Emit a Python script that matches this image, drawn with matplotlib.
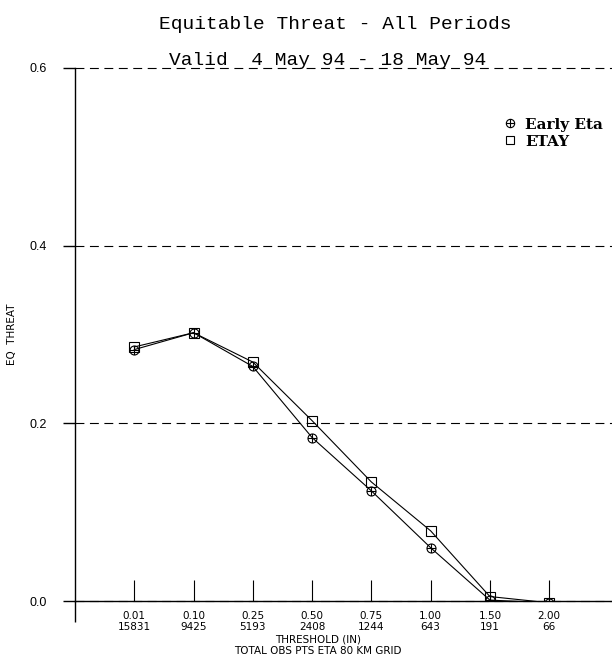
import matplotlib
matplotlib.use('Agg')
import matplotlib.pyplot as plt
from matplotlib.path import Path
from matplotlib.lines import Line2D

# precipitation thresholds (inches) and observation counts
thresholds = ['0.01', '0.10', '0.25', '0.50', '0.75', '1.00', '1.50', '2.00']
obs_pts = ['15831', '9425', '5193', '2408', '1244', '643', '191', '66']

# equitable threat scores
early_eta = [0.283, 0.302, 0.264, 0.184, 0.124, 0.060, 0.001, -0.002]
etay = [0.286, 0.302, 0.269, 0.203, 0.134, 0.079, 0.005, -0.002]

yticks = [0.0, 0.2, 0.4, 0.6]

# circle with a cross inside
cross = Path([[-1, 0], [1, 0], [0, -1], [0, 1]],
             [Path.MOVETO, Path.LINETO, Path.MOVETO, Path.LINETO])
oplus = Path.make_compound_path(Path.unit_circle(), cross)

fig = plt.figure(figsize=(6.12, 6.61), dpi=100)
ax = fig.add_axes([75 / 612, 60 / 661, 537 / 612, 533 / 661])

x = list(range(1, len(thresholds) + 1))
ax.plot(x, etay, color='k', lw=0.8, marker='s', ms=6.5, mfc='none', mec='k', mew=0.8)
ax.plot(x, early_eta, color='k', lw=0.8, marker=oplus, ms=6.5, mfc='none', mec='k', mew=0.8)

ax.set_xlim(0, 9.06)
ax.set_ylim(0, 0.6)

for s in ['top', 'right']:
    ax.spines[s].set_visible(False)
for s in ['left', 'bottom']:
    ax.spines[s].set_linewidth(1.0)

ax.set_yticks(yticks)
ax.set_yticklabels(['%.1f' % v for v in yticks], fontfamily='Liberation Sans', fontsize=9)
ax.tick_params(axis='y', direction='out', length=9, width=1.0, pad=11)

ax.set_xticks(x)
ax.set_xticklabels([t + '\n' + n for t, n in zip(thresholds, obs_pts)],
                   fontfamily='DejaVu Sans', fontsize=7.5, linespacing=1.2)
ax.tick_params(axis='x', which='major', direction='in', length=15, width=0.8, pad=7)
# axis cross below the origin
ax.set_xticks([0], minor=True)
ax.tick_params(axis='x', which='minor', direction='out', length=15, width=1.0)

ax.grid(axis='y', color='k', lw=0.8, linestyle=(0, (8, 5)), clip_on=False)
ax.grid(axis='x', visible=False)

ax.set_xlabel('THRESHOLD (IN)\nTOTAL OBS PTS ETA 80 KM GRID',
              fontfamily='DejaVu Sans', fontsize=7.5, linespacing=1.2)
ax.xaxis.set_label_coords((318 - 75) / 537, -0.062)
ax.set_ylabel('EQ  THREAT', fontfamily='DejaVu Sans', fontsize=7.5)
ax.yaxis.set_label_coords(-0.108, 0.5)

fig.text(335 / 612, 1 - 29 / 661, 'Equitable Threat - All Periods',
         ha='center', va='baseline', fontfamily='Liberation Mono', fontsize=14)
fig.text(328 / 612, 1 - 65 / 661, 'Valid  4 May 94 - 18 May 94',
         ha='center', va='baseline', fontfamily='Liberation Mono', fontsize=14)

handles = [Line2D([], [], ls='none', marker=oplus, ms=6, mfc='none', mec='k', mew=0.8),
           Line2D([], [], ls='none', marker='s', ms=6, mfc='none', mec='k', mew=0.8)]
ax.legend(handles, ['Early Eta', 'ETAY'], loc='upper left',
          bbox_to_anchor=(496 / 612, 1 - 110 / 661), bbox_transform=fig.transFigure,
          frameon=False, handlelength=0.8, handletextpad=0.6, borderpad=0,
          labelspacing=0.2, prop={'family': 'DejaVu Serif', 'weight': 'bold', 'size': 11})

fig.savefig('out.png', dpi=100)
